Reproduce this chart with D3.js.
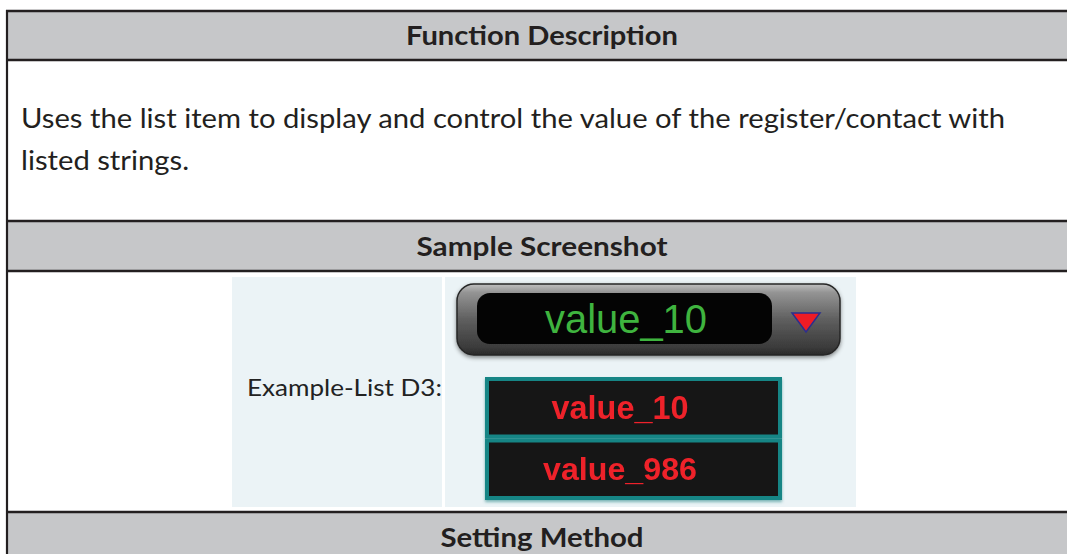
<!DOCTYPE html>
<html><head><meta charset="utf-8">
<script src="https://cdn.jsdelivr.net/npm/d3@7"></script>
<style>body{margin:0;background:#fff;overflow:hidden}</style>
</head><body><svg id="c" width="1067" height="554"></svg>
<script>
// ---- content ----
const sectionTitles = ["Function Description", "Sample Screenshot", "Setting Method"];
const descriptionLines = ["Uses the list item to display and control the value of the register/contact with", "listed strings."];
const widgetLabel = ["Example-List D3:"];
const currentValue = ["value_10"];
const listItems = ["value_10", "value_986"];

// ---- drawing ----
const svg = d3.select("#c");
const W = 1067, H = 554;
const ink = "#231f20";

function fit(sel, target) {
  sel.each(function () {
    const n = d3.select(this);
    const fs = parseFloat(n.attr("font-size"));
    const w = this.getComputedTextLength();
    n.attr("font-size", (fs * target / w).toFixed(2));
  });
}
function squeeze(sel, target) {
  sel.attr("textLength", target).attr("lengthAdjust", "spacingAndGlyphs");
}

// header rows
const headerRows = [{y0: 11, y1: 60}, {y0: 221, y1: 271}, {y0: 512, y1: 600}];
const headerData = sectionTitles.map((t, i) => ({t, ...headerRows[i]}));
svg.selectAll("rect.hdr").data(headerData).join("rect")
  .attr("class", "hdr").attr("x", 7).attr("y", d => d.y0).attr("width", W).attr("height", d => d.y1 - d.y0)
  .attr("fill", "#c6c7c9");

// borders
const hLines = [11, 60, 221, 271, 512];
svg.selectAll("line.h").data(hLines).join("line").attr("class", "h")
  .attr("x1", 6).attr("x2", W + 5).attr("y1", d => d).attr("y2", d => d)
  .attr("stroke", ink).attr("stroke-width", 2.4);
svg.append("line").attr("x1", 7).attr("x2", 7).attr("y1", 10).attr("y2", H + 5)
  .attr("stroke", ink).attr("stroke-width", 2.2);

// header titles
const titleBase = [45, 256, 547];
const titleW = [272, 251, 203];
svg.selectAll("text.hdr").data(headerData).join("text").attr("class", "hdr")
  .attr("x", 542).attr("y", (d, i) => titleBase[i]).attr("text-anchor", "middle")
  .attr("font-family", "Lato, 'Open Sans', sans-serif").attr("font-weight", 700)
  .attr("font-size", 26.5).attr("fill", ink).text(d => d.t)
  .each(function (d, i) { squeeze(d3.select(this), titleW[i]); });

// description
const descY = d3.scalePoint().domain(descriptionLines).range([127.5, 169.5]);
const desc = svg.selectAll("text.desc").data(descriptionLines).join("text").attr("class", "desc")
  .attr("x", 21).attr("y", d => descY(d))
  .attr("font-family", "Lato, 'Open Sans', sans-serif").attr("font-size", 27).attr("fill", ink).text(d => d);
const nat = desc.nodes().map(n => n.getComputedTextLength());
const ratio = 984 / nat[0];
desc.each(function (d, i) { squeeze(d3.select(this), nat[i] * ratio); });

// screenshot panels
svg.append("rect").attr("x", 232).attr("y", 277).attr("width", 210).attr("height", 230).attr("fill", "#ebf3f6");
svg.append("rect").attr("x", 445).attr("y", 277).attr("width", 411).attr("height", 230).attr("fill", "#ebf3f6");

// label
svg.selectAll("text.lbl").data(widgetLabel).join("text").attr("class", "lbl")
  .attr("x", 247).attr("y", 396)
  .attr("font-family", "Lato, 'Open Sans', sans-serif").attr("font-size", 22.5).attr("fill", "#222").text(d => d)
  .call(s => squeeze(s, 195));

// defs
const defs = svg.append("defs");
const g1 = defs.append("linearGradient").attr("id", "dd").attr("x1", 0).attr("y1", 0).attr("x2", 0).attr("y2", 1);
[[0, "#c0c0c0"], [0.12, "#949494"], [0.5, "#5f5f5f"], [0.9, "#3a3a3a"], [1, "#2a2a2a"]]
  .forEach(([o, c]) => g1.append("stop").attr("offset", o).attr("stop-color", c));
const f = defs.append("filter").attr("id", "sh").attr("x", -0.1).attr("y", -0.2).attr("width", 1.2).attr("height", 1.5);
f.append("feDropShadow").attr("dx", 0).attr("dy", 2).attr("stdDeviation", 2).attr("flood-color", "#000").attr("flood-opacity", 0.45);
const f2 = defs.append("filter").attr("id", "sh2").attr("x", -0.1).attr("y", -0.1).attr("width", 1.2).attr("height", 1.3);
f2.append("feDropShadow").attr("dx", 0).attr("dy", 2).attr("stdDeviation", 1.5).attr("flood-color", "#2a8a8a").attr("flood-opacity", 0.6);

// dropdown
svg.append("rect").attr("x", 457).attr("y", 284).attr("width", 383).attr("height", 71).attr("rx", 17)
  .attr("fill", "url(#dd)").attr("stroke", "#262626").attr("stroke-width", 1.5).attr("filter", "url(#sh)");
svg.append("rect").attr("x", 477).attr("y", 293).attr("width", 295).attr("height", 51).attr("rx", 13)
  .attr("fill", "#040404");
svg.selectAll("text.cur").data(currentValue).join("text").attr("class", "cur")
  .attr("x", 626).attr("y", 333).attr("text-anchor", "middle")
  .attr("font-family", "'Liberation Sans', Arial, sans-serif").attr("font-size", 40).attr("fill", "#3fb43f").text(d => d)
  .call(s => fit(s, 162));
svg.append("path").attr("d", d3.line()([[792, 313], [820, 313], [806, 332]]) + "Z")
  .attr("fill", "#ee1c25").attr("stroke", "#2b2f8f").attr("stroke-width", 1.5).attr("stroke-linejoin", "miter");

// list
const yb = d3.scaleBand().domain(listItems).range([377, 500]);
const items = svg.selectAll("g.item").data(listItems).join("g").attr("class", "item").attr("filter", "url(#sh2)");
items.append("rect").attr("x", 487).attr("y", d => yb(d) + 2).attr("width", 293).attr("height", yb.bandwidth() - 4)
  .attr("fill", "#171717").attr("stroke", "#178585").attr("stroke-width", 4);
items.append("text").attr("x", 620).attr("y", d => yb(d) + yb.bandwidth() / 2 + 11).attr("text-anchor", "middle")
  .attr("font-family", "'Liberation Sans', Arial, sans-serif").attr("font-weight", 700).attr("font-size", 30)
  .attr("fill", "#ee2229").text(d => d)
  .each(function (d, i) { fit(d3.select(this), i === 0 ? 137 : 154); });
</script></body></html>
